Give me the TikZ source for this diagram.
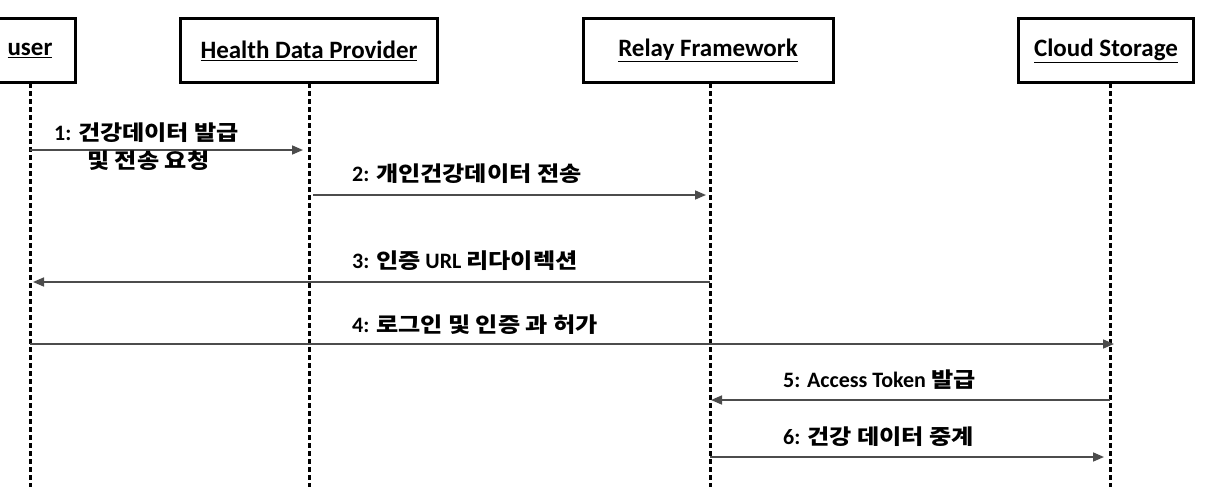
\documentclass[tikz,border=0pt]{standalone}
\usepackage{fontspec}
\setmainfont{Carlito}
\newfontfamily\kr{Noto Sans CJK KR}[FakeStretch=1.15]
\usetikzlibrary{arrows.meta}
\begin{document}
\begin{tikzpicture}[x=1pt,y=-1pt,
  actor/.style={draw=black,line width=3pt,minimum height=64pt,inner sep=0pt,font=\bfseries\fontsize{25}{30}\selectfont},
  life/.style={line width=3pt,dash pattern=on 5pt off 3pt},
  msg/.style={draw=black!70,line width=1.6pt,-{Triangle[length=11pt,width=9pt]}},
  lbl/.style={anchor=west,inner sep=0pt,font=\bfseries\fontsize{22}{26}\selectfont}]
\useasboundingbox (0,0) rectangle (1209,493);
\begin{scope}
\clip (0,0) rectangle (1209,493);
\node[actor,minimum width=90pt] (u) at (30,50.5) {\underline{user}};
\end{scope}
\node[actor,minimum width=257pt] (h) at (309,50.5) {\underline{Health Data Provider}};
\node[actor,minimum width=250pt] (r) at (708,50.5) {\underline{Relay Framework}};
\node[actor,minimum width=175pt] (c) at (1106,50.5) {\underline{Cloud Storage}};
% lifelines
\coordinate (ue) at (30,487);
\coordinate (he) at (309,487);
\coordinate (re) at (710,487);
\coordinate (ce) at (1110,487);
\draw[life] (30,83) -- (ue);
\draw[life] (309,83) -- (he);
\draw[life] (710,83) -- (re);
\draw[life] (1110,83) -- (ce);
% message anchors
\coordinate (m1s) at (30,150); \coordinate (m1e) at (303,150);
\coordinate (m2s) at (313,195); \coordinate (m2e) at (706,195);
\coordinate (m3s) at (710,282); \coordinate (m3e) at (33,282);
\coordinate (m4s) at (30,344); \coordinate (m4e) at (1114,344);
\coordinate (m5s) at (1110,400); \coordinate (m5e) at (711,400);
\coordinate (m6s) at (710,457); \coordinate (m6e) at (1104,457);
\draw[msg] (m1s) -- (m1e);
\draw[msg] (m2s) -- (m2e);
\draw[msg] (m3s) -- (m3e);
\draw[msg] (m4s) -- (m4e);
\draw[msg] (m5s) -- (m5e);
\draw[msg] (m6s) -- (m6e);
% labels
\newcommand\kt[1]{{\kr\fontsize{21}{25}\selectfont #1}}
\node[lbl] (l1a) at (54,133) {1: \kt{건강데이터 발급}};
\node[lbl] (l1b) at (87,161) {\kt{및 전송 요청}};
\node[lbl] (l2) at (352,174) {2: \kt{개인건강데이터 전송}};
\node[lbl] (l3) at (352,261) {3: \kt{인증} URL \kt{리다이렉션}};
\node[lbl] (l4) at (352,325) {4: \kt{로그인 및 인증 과 허가}};
\node[lbl] (l5) at (783,380) {5: Access Token \kt{발급}};
\node[lbl] (l6) at (783,437) {6: \kt{건강 데이터 중계}};
\end{tikzpicture}
\end{document}
